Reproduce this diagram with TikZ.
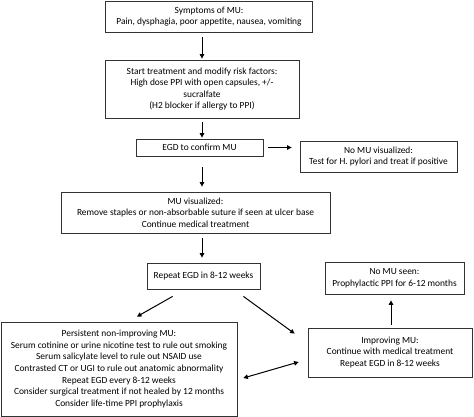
\documentclass[tikz,border=0pt]{standalone}
\usepackage{fontspec}
\setmainfont{Carlito}
\usetikzlibrary{arrows.meta}
\tikzset{
  stepbox/.style={draw=black!80, line width=0.8pt, align=center, inner sep=0pt,
    font=\fontsize{9.4}{11.6}\selectfont},
  flow/.style={line width=1pt, -{Triangle[length=4.5pt,width=4.5pt]}},
  both/.style={line width=1pt, {Triangle[length=4.5pt,width=4.5pt]}-{Triangle[length=4.5pt,width=4.5pt]}}
}
\begin{document}
\begin{tikzpicture}[x=1pt,y=-1pt]
\useasboundingbox (0,0) rectangle (474,417);
% boxes, placed at pixel positions
\node[stepbox, minimum width=207pt, minimum height=31pt] (symp) at (209,16.5)
  {Symptoms of MU:\\Pain, dysphagia, poor appetite, nausea, vomiting};
\node[stepbox, minimum width=194pt, minimum height=58pt] (start) at (202,89)
  {Start treatment and modify risk factors:\\High dose PPI with open capsules, +/-\\sucralfate\\(H2 blocker if allergy to PPI)};
\node[stepbox, minimum width=127pt, minimum height=17pt] (egd) at (199.5,147.5)
  {EGD to confirm MU};
\node[stepbox, minimum width=157pt, minimum height=31pt] (nomu) at (378.5,156.5)
  {No MU visualized:\\Test for H. pylori and treat if positive};
\node[stepbox, minimum width=269pt, minimum height=41pt] (vis) at (195.5,212.5)
  {MU visualized:\\Remove staples or non-absorbable suture if seen at ulcer base\\Continue medical treatment};
\node[stepbox, minimum width=113pt, minimum height=26pt] (rep) at (203.5,276)
  {Repeat EGD in 8-12 weeks};
\node[stepbox, minimum width=139pt, minimum height=32pt] (seen) at (394.5,278)
  {No MU seen:\\Prophylactic PPI for 6-12 months};
\node[stepbox, minimum width=164pt, minimum height=49pt] (imp) at (390,352.5)
  {Improving MU:\\Continue with medical treatment\\Repeat EGD in 8-12 weeks};
\node[stepbox, minimum width=236pt, minimum height=94pt] (pers) at (119,369)
  {Persistent non-improving MU:\\Serum cotinine or urine nicotine test to rule out smoking\\Serum salicylate level to rule out NSAID use\\Contrasted CT or UGI to rule out anatomic abnormality\\Repeat EGD every 8-12 weeks\\Consider surgical treatment if not healed by 12 months\\Consider life-time PPI prophylaxis};
% arrows
\draw[flow, shorten <=5pt, shorten >=1pt] (symp.south -| start.north) -- (start.north);
\draw[flow, shorten <=4pt, shorten >=1pt] (start.south) -- (start.south |- egd.north);
\draw[flow, shorten <=5pt, shorten >=8pt] (egd.east) -- (egd.east -| nomu.west);
\draw[flow, shorten <=11pt, shorten >=5pt] (egd.south -| start.south) -- (start.south |- vis.north);
\draw[flow, shorten <=5pt, shorten >=5pt] (vis.south -| start.south) -- (start.south |- rep.north);
\draw[flow] ([shift={(26pt,-7pt)}]rep.south west) -- ([shift={(18pt,5pt)}]pers.north);
\draw[flow] ([shift={(-17pt,-7pt)}]rep.south east) -- ([shift={(-13pt,-6pt)}]imp.north west);
\draw[flow, shorten <=3pt, shorten >=6pt] (imp.north -| 391,0) -- (seen.south -| 391,0);
\draw[both] ([shift={(6pt,-9pt)}]pers.east) -- ([shift={(-9pt,-9.5pt)}]imp.west);
\end{tikzpicture}
\end{document}
